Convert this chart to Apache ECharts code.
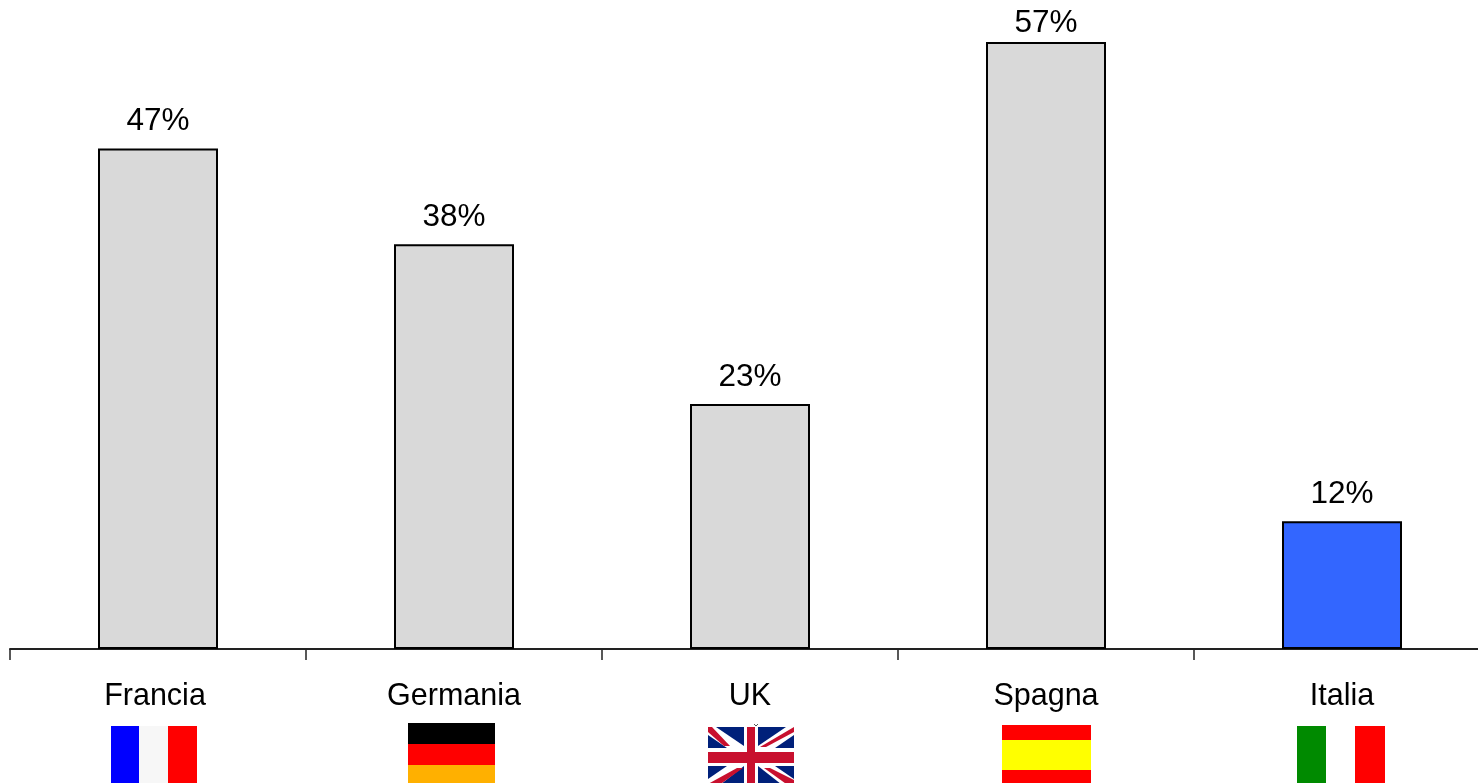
<!DOCTYPE html>
<html>
<head>
<meta charset="utf-8">
<style>html,body{margin:0;padding:0;background:#fff;overflow:hidden;width:1478px;height:783px}#chart{width:1490px;height:783px}</style>
<script src="https://cdn.jsdelivr.net/npm/echarts@6/dist/echarts.min.js"></script>
</head>
<body>
<div id="chart"></div>
<script>
const categories = ['Francia', 'Germania', 'UK', 'Spagna', 'Italia'];
const shares = [47, 38, 23, 57, 12];
const barColors = ['#d9d9d9', '#d9d9d9', '#d9d9d9', '#d9d9d9', '#3366ff'];

const FONT = '"Liberation Sans", Arial, sans-serif';
const NAVY = '#00207a';
const UK_RED = '#c8102e';

const rect = (x, y, width, height, fill) => ({
  type: 'rect', silent: true, shape: { x, y, width, height }, style: { fill }
});
const poly = (points, fill) => ({
  type: 'polygon', silent: true, shape: { points }, style: { fill }
});

// Small national flags under the category names; the page edge trims them
const flags = [
  // France
  rect(111, 726, 28, 60, '#0000ff'), rect(139, 726, 29, 60, '#f7f7f7'), rect(168, 726, 29, 60, '#ff0000'),
  // Germany
  rect(408, 723, 87, 21, '#000000'), rect(408, 744, 87, 21, '#ff0000'), rect(408, 765, 87, 21, '#ffb000'),
  // United Kingdom: field, blue triangles, red saltire, cross
  rect(708, 727, 86, 61, '#ffffff'),
  poly([[716, 727], [744, 727], [744, 746]], NAVY),
  poly([[708, 735], [708, 748], [727, 748]], NAVY),
  poly([[758, 727], [786, 727], [758, 746]], NAVY),
  poly([[794, 735], [794, 748], [775, 748]], NAVY),
  poly([[708, 766], [727, 766], [708, 779]], NAVY),
  poly([[744, 766], [744, 788], [716, 788]], NAVY),
  poly([[758, 766], [786, 788], [758, 788]], NAVY),
  poly([[775, 766], [794, 766], [794, 779]], NAVY),
  poly([[708, 727], [712, 727], [730, 746], [724, 746], [708, 732]], UK_RED),
  poly([[794, 727], [794, 732], [766, 747], [760, 747]], UK_RED),
  poly([[708, 784], [708, 788], [715, 788], [743, 768], [737, 768]], UK_RED),
  poly([[794, 780], [794, 786], [789, 786], [764, 768], [770, 768]], UK_RED),
  rect(747, 727, 8, 61, UK_RED), rect(708, 752, 86, 11, UK_RED),
  { type: 'polyline', silent: true,
    shape: { points: [[754, 724], [756, 726], [758, 724]] },
    style: { stroke: '#555555', fill: null, lineWidth: 1 } },
  // Spain
  rect(1002, 725, 89, 15, '#ff0000'), rect(1002, 740, 89, 30, '#ffff00'), rect(1002, 770, 89, 16, '#ff0000'),
  // Italy
  rect(1297, 726, 29, 60, '#008a00'), rect(1326, 726, 29, 60, '#ffffff'), rect(1355, 726, 30, 60, '#ff0000')
];

const chart = echarts.init(document.getElementById('chart'), null, { renderer: 'canvas' });
chart.setOption({
  animation: false,
  backgroundColor: '#ffffff',
  // The canvas is a little wider than the page, so the closing tick falls off its right edge
  grid: { left: 10, right: 0, top: 10, bottom: 134, containLabel: false },
  xAxis: {
    type: 'category',
    // "Francia" sits slightly left of its band centre
    data: categories.map((value, i) => i === 0 ? { value, textStyle: { padding: [0, 6, 0, 0] } } : value),
    axisLine: { show: true, lineStyle: { color: '#222222', width: 2 } },
    axisTick: { show: true, length: 11, lineStyle: { color: '#222222', width: 1.5 } },
    axisLabel: { color: '#000000', fontFamily: FONT, fontSize: 30.5, margin: 32, interval: 0 }
  },
  yAxis: { type: 'value', min: 0, max: 60, show: false, splitLine: { show: false } },
  series: [{
    type: 'bar',
    barWidth: 120,
    data: shares.map((value, i) => ({
      value,
      itemStyle: { color: barColors[i] },
      // The tallest bar keeps its label closer, so it stays on the page
      ...(value === Math.max(...shares) ? { label: { distance: 3 } } : {})
    })),
    itemStyle: { borderColor: '#000000', borderWidth: 2 },
    label: {
      show: true, position: 'top', distance: 11,
      formatter: '{c}%', color: '#000000', fontFamily: FONT, fontSize: 31.5
    }
  }],
  graphic: flags
});
</script>
</body>
</html>
